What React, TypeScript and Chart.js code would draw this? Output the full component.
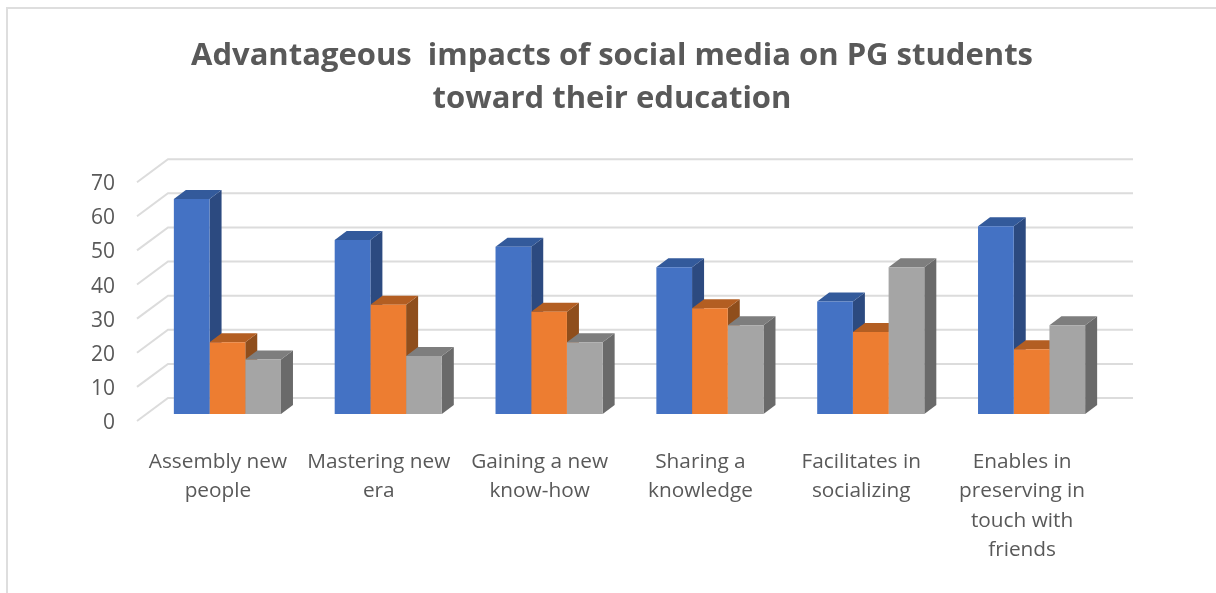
import { useEffect, useRef } from "react";
import { Chart, registerables } from "chart.js";

Chart.register(...registerables);

const categories = [
  ["Assembly new", "people"],
  ["Mastering new", "era"],
  ["Gaining a new", "know-how"],
  ["Sharing a", "knowledge"],
  ["Facilitates in", "socializing"],
  ["Enables in", "preserving in", "touch with", "friends"],
];
const seriesBlue = [63, 51, 49, 43, 33, 55];
const seriesOrange = [21, 32, 30, 31, 24, 19];
const seriesGray = [16, 17, 21, 26, 43, 26];
const titleLines = ["Advantageous  impacts of social media on PG students", "toward their education"];
const faceColors = ["#4472C4", "#ED7D31", "#A5A5A5"];
const sideColors = ["#2C4A80", "#8F4E1C", "#6A6A6A"];
const topColors = ["#335A9B", "#B35E22", "#7E7E7E"];
const FONT = "'Open Sans', sans-serif";

const bars3d = {
  id: "bars3d",
  beforeDraw(chart: any) {
    const { ctx, width, height } = chart;
    ctx.save();
    ctx.fillStyle = "#fff";
    ctx.fillRect(0, 0, width, height);
    ctx.strokeStyle = "#DEDEDE";
    ctx.lineWidth = 2;
    ctx.beginPath();
    ctx.moveTo(7, height);
    ctx.lineTo(7, 8);
    ctx.lineTo(width, 8);
    ctx.stroke();
    ctx.restore();
  },
  beforeDatasetsDraw(chart: any) {
    const { ctx, chartArea } = chart;
    const y = chart.scales.y;
    ctx.save();
    ctx.strokeStyle = "#DCDCDC";
    ctx.lineWidth = 2;
    y.ticks.forEach((t: any) => {
      const p = y.getPixelForValue(t.value);
      ctx.beginPath();
      ctx.moveTo(chartArea.left - 10, p + 7);
      ctx.lineTo(chartArea.left + 21, p - 16);
      ctx.lineTo(chartArea.right + 21, p - 16);
      ctx.stroke();
    });
    const dx = 12;
    const dy = 9;
    const n = chart.data.labels.length;
    for (let i = 0; i < n; i++) {
      chart.data.datasets.forEach((_: any, d: number) => {
        const el = chart.getDatasetMeta(d).data[i];
        const half = el.width / 2;
        const l = el.x - half;
        const r = el.x + half;
        const t = el.y;
        const b = el.base;
        ctx.fillStyle = sideColors[d];
        ctx.beginPath();
        ctx.moveTo(r, t);
        ctx.lineTo(r + dx, t - dy);
        ctx.lineTo(r + dx, b - dy);
        ctx.lineTo(r, b);
        ctx.closePath();
        ctx.fill();
        ctx.fillStyle = topColors[d];
        ctx.beginPath();
        ctx.moveTo(l, t);
        ctx.lineTo(l + dx, t - dy);
        ctx.lineTo(r + dx, t - dy);
        ctx.lineTo(r, t);
        ctx.closePath();
        ctx.fill();
      });
    }
    ctx.restore();
  },
};

export default function App() {
  const ref = useRef<HTMLCanvasElement>(null);
  useEffect(() => {
    const make = (data: number[], i: number) => ({
      label: `Series${i + 1}`,
      data,
      backgroundColor: faceColors[i],
      borderWidth: 0,
      categoryPercentage: 0.666,
      barPercentage: 1,
    });
    const chart = new Chart(ref.current as HTMLCanvasElement, {
      type: "bar",
      data: {
        labels: categories as any,
        datasets: [seriesBlue, seriesOrange, seriesGray].map(make),
      },
      plugins: [bars3d],
      options: {
        animation: false,
        responsive: false,
        layout: { padding: { left: 8, right: 0, top: 0, bottom: 0 } },
        plugins: {
          legend: { display: false },
          tooltip: { enabled: false },
          title: {
            display: true,
            text: titleLines,
            color: "#595959",
            font: { family: FONT, size: 31, weight: "bold", lineHeight: 1.39 },
            padding: { top: 35, bottom: 54 },
          },
        },
        scales: {
          x: {
            grid: { display: false },
            border: { display: false },
            ticks: {
              autoSkip: false,
              maxRotation: 0,
              minRotation: 0,
              color: "#595959",
              padding: 25,
              labelOffset: -9.5,
              font: { family: FONT, size: 20.8, lineHeight: 1.42 },
            },
            afterFit: (s: any) => { s.height = 179; },
          },
          y: {
            min: 0,
            max: 70,
            grid: { display: false },
            border: { display: false },
            ticks: {
              stepSize: 10,
              color: "#595959",
              padding: 24,
              labelOffset: 9,
              font: { family: FONT, size: 21 },
            },
            afterFit: (s: any) => { s.width = 139; },
          },
          rightSpace: {
            position: "right",
            display: true,
            grid: { display: false },
            border: { display: false },
            ticks: { display: false },
            afterFit: (s: any) => { s.width = 104; },
          },
        },
      } as any,
    });
    return () => chart.destroy();
  }, []);
  return (
    <canvas
      ref={ref}
      width={1216}
      height={593}
      style={{ position: "fixed", left: 0, top: 0, width: 1216, height: 593, display: "block" }}
    />
  );
}
